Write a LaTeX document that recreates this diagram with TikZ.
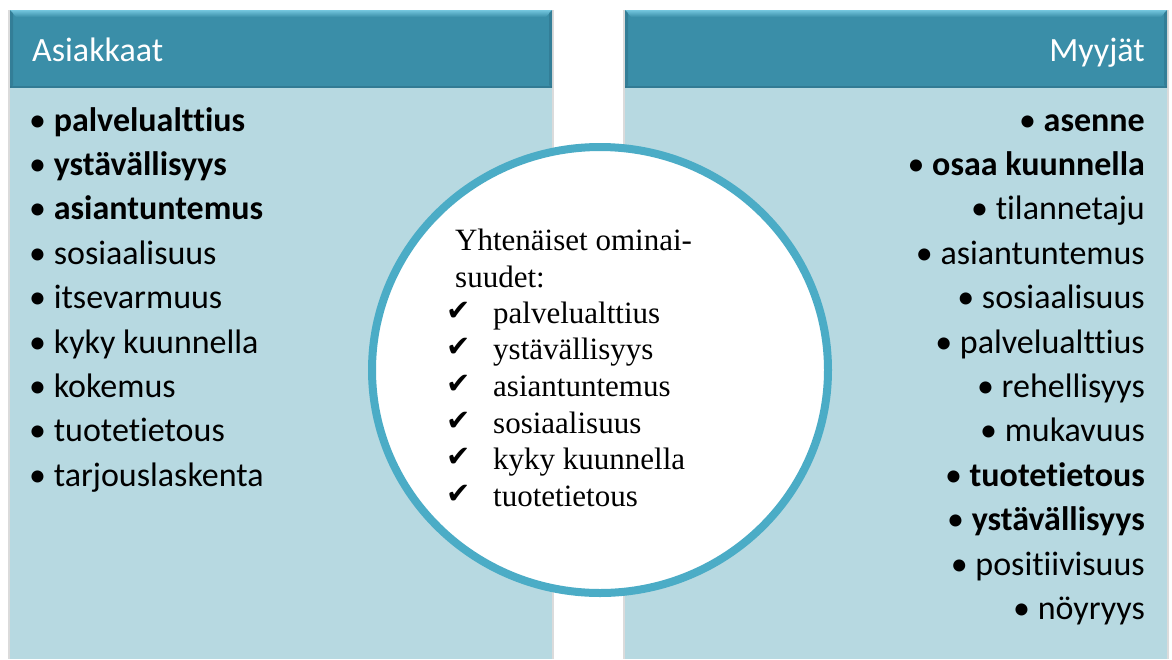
\documentclass[tikz,border=0pt]{standalone}
\usepackage{amsmath,amssymb}
\usepackage{fontspec}
\setmainfont{Liberation Serif}
\newfontfamily\calib[Ligatures=NoCommon]{Carlito}
\newfontfamily\symb{DejaVu Sans}
\usepackage{tikz}
\usetikzlibrary{calc,shapes.geometric}

\definecolor{headteal}{HTML}{3A8EA8}
\definecolor{headlight}{HTML}{74C6DE}
\definecolor{headdark}{HTML}{2E6F87}
\definecolor{bodyblue}{HTML}{B7D9E1}
\definecolor{ringblue}{HTML}{4BACC6}

\tikzset{
  header/.style={fill=headteal, draw=none},
  bodybox/.style={fill=bodyblue, draw=none},
  shade box/.style={fill=black!40, opacity=.35, draw=none},
  headtext/.style={font=\calib\fontsize{34}{40}\selectfont, text=white, inner sep=0pt},
  item/.style={font=\calib\fontsize{34}{40}\selectfont, inner sep=0pt},
  circtext/.style={font=\fontsize{31}{37}\selectfont, inner sep=0pt}
}

\begin{document}
\begin{tikzpicture}[x=1pt,y=-1pt]
\useasboundingbox (0,0) rectangle (1172,659);
\fill[white] (0,0) rectangle (1172,659);

%% the two columns, with a soft edge shadow
\foreach \xl/\xr in {10/552,625/1167}{
  \fill[shade box] (\xl-2,10) rectangle (\xr+2,659);
  \fill[bodybox] (\xl,88) rectangle (\xr,659);
  \fill[header] (\xl,10) rectangle (\xr,88);
  %% bevel at the top of the header
  \shade[top color=headlight, bottom color=headteal] (\xl,10) -- (\xr,10) -- (\xr-6,17) -- (\xl+6,17) -- cycle;
  \fill[headdark, opacity=.5] (\xl,10) -- (\xl+3,13) -- (\xl+3,85) -- (\xl,88) -- cycle;
  \fill[headdark, opacity=.5] (\xr,10) -- (\xr-3,13) -- (\xr-3,85) -- (\xr,88) -- cycle;
  \fill[headdark, opacity=.6] (\xl,86) rectangle (\xr,88);
}

%% column titles
\node[headtext, anchor=base west] (asiak) at (32,61) {Asiakkaat};
\node[headtext, anchor=base east] (myyj) at (1145,61) {Myyjät};

%% left list
\foreach \t [count=\i] in {{\bfseries palvelualttius},{\bfseries ystävällisyys},{\bfseries asiantuntemus},
  sosiaalisuus,itsevarmuus,kyky kuunnella,kokemus,tuotetietous,tarjouslaskenta}{
  \node[item, anchor=base west] (l\i) at (29,{131+44.4*(\i-1)}) {• \t};
}

%% right list
\foreach \t [count=\i] in {{\bfseries asenne},{\bfseries osaa kuunnella},tilannetaju,asiantuntemus,
  sosiaalisuus,palvelualttius,rehellisyys,mukavuus,{\bfseries tuotetietous},{\bfseries ystävällisyys},
  positiivisuus,nöyryys}{
  \node[item, anchor=base east] (r\i) at (1145,{131+44.4*(\i-1)}) {• \t};
}

%% the circle in the middle
\node[draw=ringblue, line width=8pt, fill=white, ellipse, minimum width=456pt, minimum height=446pt, inner sep=0pt] (ring) at (600,370) {};
\node[circtext, anchor=base west] (head1) at (455,250) {Yhtenäiset ominai-};
\node[circtext, anchor=base west] (head2) at (455,287) {suudet:};
\foreach \t [count=\i] in {palvelualttius,ystävällisyys,asiantuntemus,sosiaalisuus,kyky kuunnella,tuotetietous}{
  \node[circtext, anchor=base west] (ck\i) at (446,{320+36.7*(\i-1)}) {\symb\fontsize{29}{32}\selectfont ✔};
  \node[circtext, anchor=base west] (c\i) at (493,{323+36.7*(\i-1)}) {\t};
}

\end{tikzpicture}
\end{document}
